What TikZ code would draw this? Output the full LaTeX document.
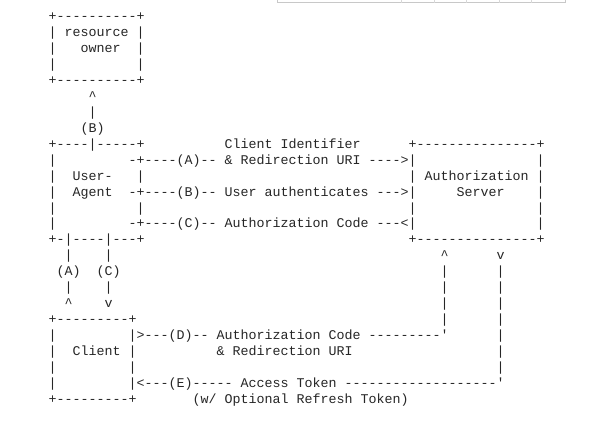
\documentclass[tikz,border=0pt]{standalone}
\usepackage{fontspec}
\setmonofont{Liberation Mono}
\definecolor{ink}{HTML}{262626}
\definecolor{uiline}{HTML}{C8C8C8}
\tikzset{
  asc/.style={anchor=base west, inner sep=0pt, outer sep=0pt,
    font=\ttfamily\frenchspacing\fontsize{13.33pt}{16pt}\selectfont, text=ink},
}
% row, column, text
\newcommand\asc[3]{\node[asc] (r#1c#2) at ({48.7pt+8pt*#2},{-20.5pt-15.96pt*(#1-1)}) {#3};}
\newcommand\up{\textasciicircum}
\newcommand\tick{\textquotesingle}
\begin{document}
\begin{tikzpicture}[x=1pt,y=1pt]
\useasboundingbox[fill=white] (0,0) rectangle (615,-430);
% cut-off interface strip at the top
\draw[uiline, line width=0.8pt] (277,0) -- (277,-2.7) -- (565,-2.7) -- (565,0);
\foreach \xx in {401.7,434,466.7,499.3,531.7}
  \draw[uiline!70, line width=0.6pt] (\xx,0) -- (\xx,-2.7);
% resource owner
\asc{1}{0}{+----------+}
\asc{2}{0}{| resource |}
\asc{3}{0}{|}\asc{3}{4}{owner}\asc{3}{11}{|}
\asc{4}{0}{|}\asc{4}{11}{|}
\asc{5}{0}{+----------+}
\asc{6}{5}{\up}
\asc{7}{5}{|}
\asc{8}{4}{(B)}
% user-agent and authorization server
\asc{9}{0}{+----|-----+}\asc{9}{22}{Client Identifier}\asc{9}{45}{+---------------+}
\asc{10}{0}{|}\asc{10}{10}{-+----(A)-- \& Redirection URI ---->|}\asc{10}{61}{|}
\asc{11}{0}{|}\asc{11}{3}{User-}\asc{11}{11}{|}\asc{11}{45}{| Authorization |}
\asc{12}{0}{|}\asc{12}{3}{Agent}\asc{12}{10}{-+----(B)-- User authenticates --->|}\asc{12}{51}{Server}\asc{12}{61}{|}
\asc{13}{0}{|}\asc{13}{11}{|}\asc{13}{45}{|}\asc{13}{61}{|}
\asc{14}{0}{|}\asc{14}{10}{-+----(C)-- Authorization Code ---<|}\asc{14}{61}{|}
\asc{15}{0}{+-|----|---+}\asc{15}{45}{+---------------+}
\asc{16}{2}{|}\asc{16}{7}{|}\asc{16}{49}{\up}\asc{16}{56}{v}
\asc{17}{1}{(A)}\asc{17}{6}{(C)}\asc{17}{49}{|}\asc{17}{56}{|}
\asc{18}{2}{|}\asc{18}{7}{|}\asc{18}{49}{|}\asc{18}{56}{|}
\asc{19}{2}{\up}\asc{19}{7}{v}\asc{19}{49}{|}\asc{19}{56}{|}
% client
\asc{20}{0}{+---------+}\asc{20}{49}{|}\asc{20}{56}{|}
\asc{21}{0}{|}\asc{21}{10}{|>---(D)-- Authorization Code ---------\tick}\asc{21}{56}{|}
\asc{22}{0}{|}\asc{22}{3}{Client}\asc{22}{10}{|}\asc{22}{21}{\& Redirection URI}\asc{22}{56}{|}
\asc{23}{0}{|}\asc{23}{10}{|}\asc{23}{56}{|}
\asc{24}{0}{|}\asc{24}{10}{|<---(E)----- Access Token -------------------\tick}
\asc{25}{0}{+---------+}\asc{25}{18}{(w/ Optional Refresh Token)}
\end{tikzpicture}
\end{document}
